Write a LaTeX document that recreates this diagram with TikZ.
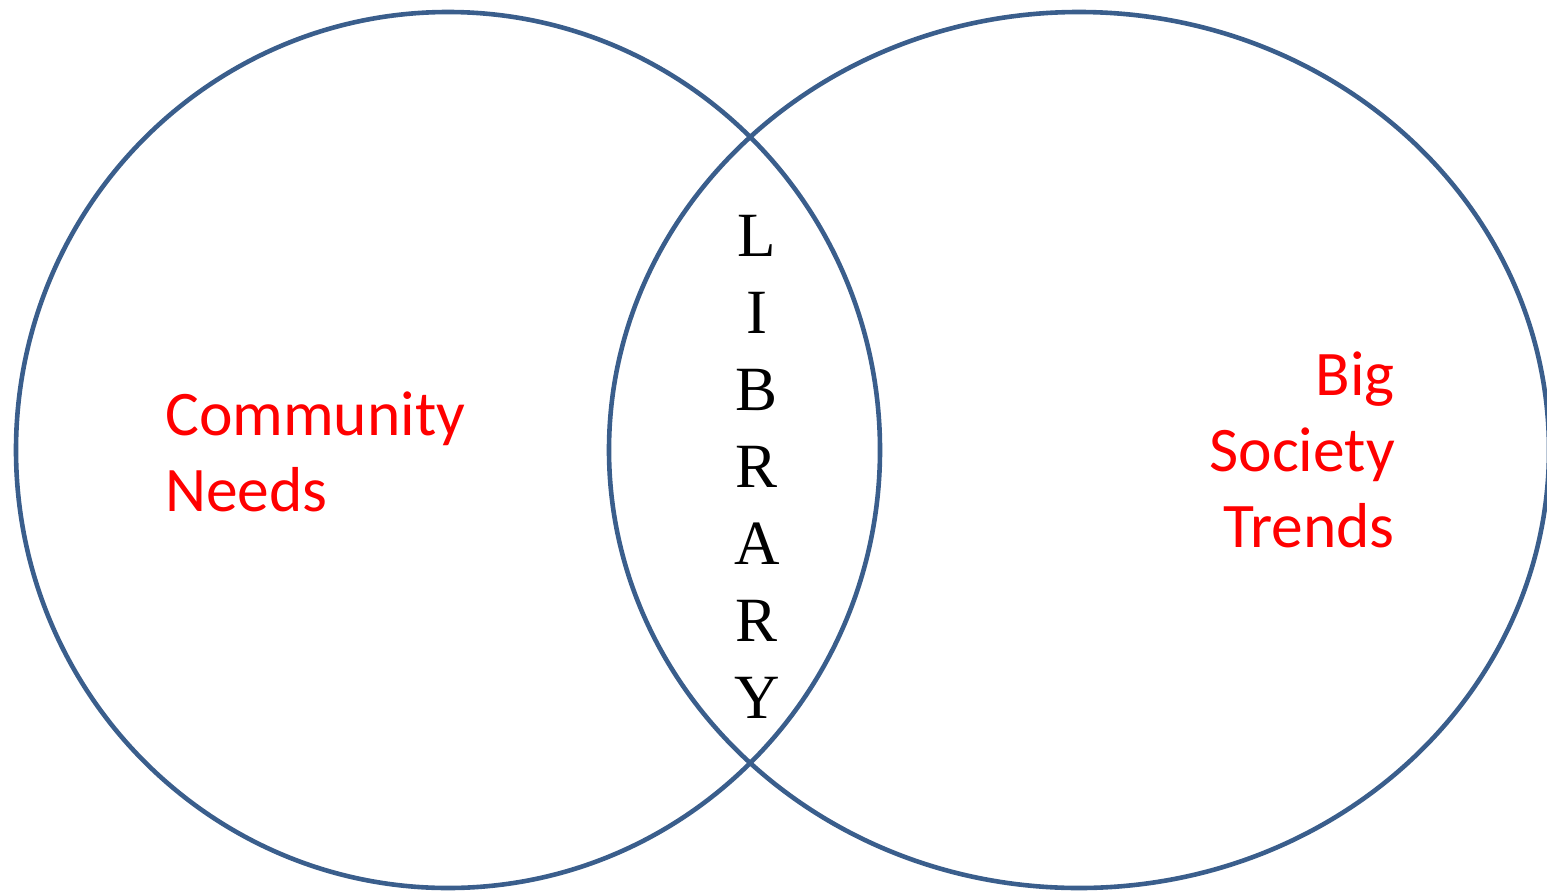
\documentclass[tikz,border=0pt]{standalone}
\usepackage{fontspec}
\setmainfont{Carlito}
\newfontfamily\serifletters{Liberation Serif}
\definecolor{vennblue}{HTML}{3A5E8C}
\definecolor{vennred}{HTML}{FF0000}
\begin{document}
\begin{tikzpicture}[x=1pt,y=-1pt,
  venn/.style={draw=vennblue,line width=4.6pt},
  redlabel/.style={text=vennred,font=\fontsize{63.5}{76}\selectfont,inner sep=0pt},
  libletters/.style={text=black,font=\serifletters\fontsize{63}{77}\selectfont,inner sep=0pt,align=center}]
\useasboundingbox (0,0) rectangle (1547,892);
\clip (0,0) rectangle (1547,892);
\draw[venn] (448,450) ellipse [x radius=432pt, y radius=438pt];
\draw[venn] (1079,450) ellipse [x radius=470pt, y radius=438pt];
\node[redlabel,align=left,anchor=base west] (community) at (165,511) {Community\\Needs};
\node[redlabel,align=right,anchor=base east] (society) at (1395,547) {Big\\Society\\Trends};
\node[libletters,anchor=base] (library) at (757,718) {L\\I\\B\\R\\A\\R\\Y};
\end{tikzpicture}
\end{document}
